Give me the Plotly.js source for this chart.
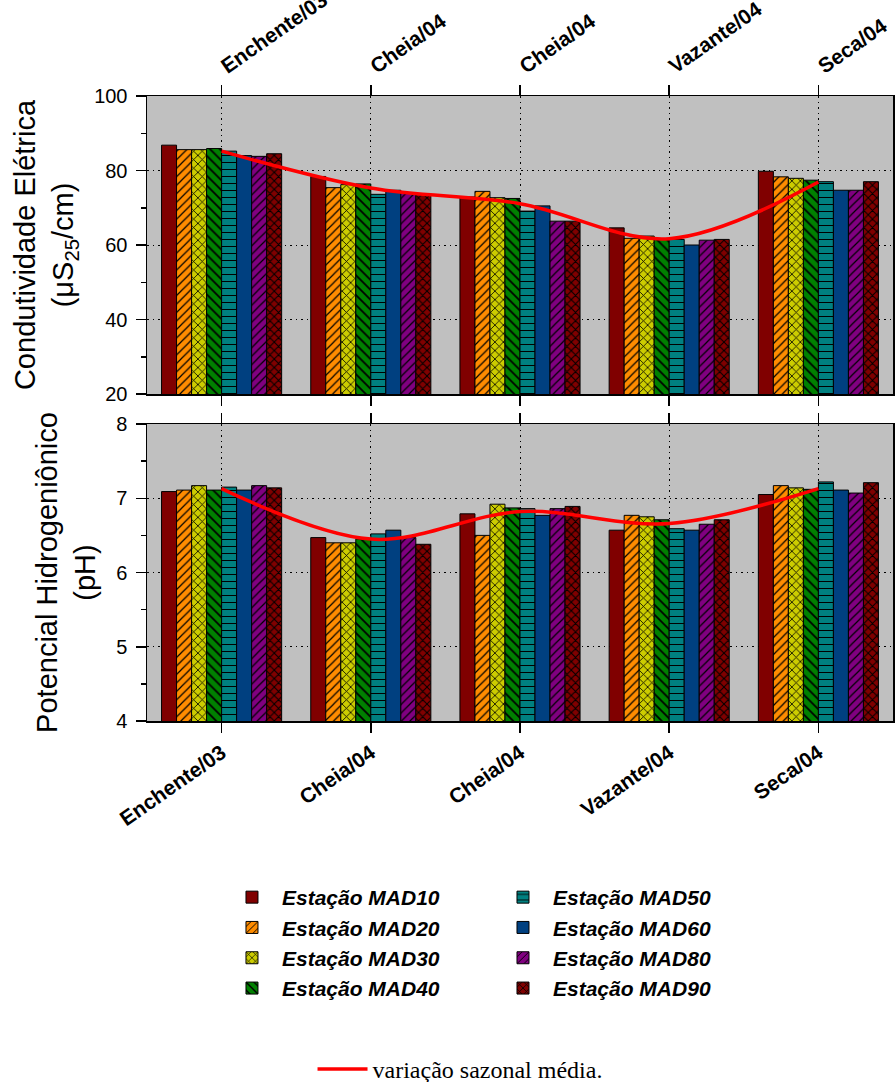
<!DOCTYPE html>
<html>
<head>
<meta charset="utf-8">
<script src="https://cdn.plot.ly/plotly-3.0.1.min.js"></script>
<style>html,body{margin:0;padding:0;background:#fff;}#chart{width:895px;height:1082px;}</style>
</head>
<body>
<div id="chart"></div>
<script>
const categories = ['Enchente/03', 'Cheia/04', 'Cheia/04', 'Vazante/04', 'Seca/04'];
const stations = ['Estação MAD10', 'Estação MAD20', 'Estação MAD30', 'Estação MAD40',
                  'Estação MAD50', 'Estação MAD60', 'Estação MAD80', 'Estação MAD90'];

// Condutividade elétrica (µS25/cm)
const condMAD10 = [86.8, 78.4, 72.9, 64.6, 79.8];
const condMAD20 = [85.6, 75.4, 74.4, 61.8, 78.3];
const condMAD30 = [85.6, 76.2, 72.7, 62.4, 77.9];
const condMAD40 = [85.9, 76.4, 72.5, 61.7, 77.4];
const condMAD50 = [85.2, 73.6, 69.1, 61.5, 77.0];
const condMAD60 = [84.0, 74.7, 70.5, 60.0, 74.7];
const condMAD80 = [83.8, 74.0, 66.4, 61.3, 74.7];
const condMAD90 = [84.5, 73.8, 66.4, 61.5, 77.0];
const condMedia = [85.2, 75.3, 71.1, 61.7, 76.9];

// Potencial hidrogeniônico (pH)
const phMAD10 = [7.09, 6.47, 6.79, 6.57, 7.05];
const phMAD20 = [7.11, 6.40, 6.50, 6.77, 7.17];
const phMAD30 = [7.17, 6.40, 6.92, 6.75, 7.14];
const phMAD40 = [7.11, 6.45, 6.87, 6.71, 7.12];
const phMAD50 = [7.15, 6.52, 6.86, 6.59, 7.22];
const phMAD60 = [7.11, 6.57, 6.77, 6.57, 7.11];
const phMAD80 = [7.17, 6.47, 6.86, 6.65, 7.07];
const phMAD90 = [7.14, 6.38, 6.89, 6.71, 7.21];
const phMedia = [7.13, 6.45, 6.82, 6.66, 7.13];

const condSeries = [condMAD10, condMAD20, condMAD30, condMAD40, condMAD50, condMAD60, condMAD80, condMAD90];
const phSeries = [phMAD10, phMAD20, phMAD30, phMAD40, phMAD50, phMAD60, phMAD80, phMAD90];

const colors = ['#800000', '#FF8C00', '#CCCC00', '#008000', '#008080', '#004080', '#800080', '#800000'];
const patterns = ['', '/', 'x', '\\', '-', '', '/', 'x'];
const patSize = [6, 6, 6, 7, 7, 6, 6, 6];
const patSolid = [0.2, 0.2, 0.25, 0.25, 0.15, 0.2, 0.2, 0.3];

const xIdx = categories.map((c, i) => i);
const SANS = 'Liberation Sans, Arial, sans-serif';
const GRIDDASH = '1.5px,4px';

const traces = [];
function addBars(series, xa, ya, showLeg) {
  series.forEach((vals, k) => {
    traces.push({
      type: 'bar', x: xIdx, y: vals, xaxis: xa, yaxis: ya,
      name: stations[k], legendgroup: stations[k], showlegend: showLeg,
      legend: k < 4 ? 'legend' : 'legend2',
      marker: {
        color: colors[k],
        line: {color: '#000', width: 1},
        pattern: {shape: patterns[k], fgcolor: '#000', bgcolor: colors[k], fillmode: 'replace',
                  size: patSize[k], solidity: patSolid[k]}
      },
      hoverinfo: 'y'
    });
  });
}
addBars(condSeries, 'x2', 'y2', true);
addBars(phSeries, 'x', 'y', false);

traces.push({type: 'scatter', mode: 'lines', x: xIdx, y: condMedia, xaxis: 'x2', yaxis: 'y2',
  line: {color: '#FF0000', width: 3.5, shape: 'spline'}, name: 'variação sazonal média.',
  legend: 'legend3', legendgroup: 'media', showlegend: true});
traces.push({type: 'scatter', mode: 'lines', x: xIdx, y: phMedia, xaxis: 'x', yaxis: 'y',
  line: {color: '#FF0000', width: 3.5, shape: 'spline'}, name: 'variação sazonal média.',
  legend: 'legend3', legendgroup: 'media', showlegend: false});

const xCommon = {
  range: [-0.5, 4.5], tickvals: xIdx, ticktext: categories, tickangle: -35,
  ticks: 'outside', ticklen: 10, tickwidth: 1.5, tickcolor: '#000',
  showline: true, linecolor: '#000', linewidth: 1.5, mirror: 'ticks',
  showgrid: true, gridcolor: '#000', griddash: GRIDDASH, gridwidth: 1, zeroline: false,
  tickfont: {family: SANS, size: 21, color: '#000', weight: 'bold'}
};
const yCommon = {
  ticks: 'outside', ticklen: 10, tickwidth: 1.5, tickcolor: '#000',
  showline: true, linecolor: '#000', linewidth: 1.5, mirror: true,
  showgrid: true, gridcolor: '#000', griddash: GRIDDASH, gridwidth: 1, zeroline: false,
  ticksuffix: '\u2009',
  tickfont: {family: SANS, size: 20, color: '#000'}
};
const legFont = {family: SANS, size: 21, color: '#000', weight: 'bold', style: 'italic'};

const layout = {
  width: 895, height: 1082,
  margin: {l: 147, r: 2, t: 96, b: 361, autoexpand: false},
  paper_bgcolor: '#fff', plot_bgcolor: '#C0C0C0',
  barmode: 'group', bargap: 0.195, bargroupgap: 0,
  showlegend: true,
  xaxis: Object.assign({}, xCommon, {anchor: 'y', domain: [0, 1], side: 'bottom'}),
  xaxis2: Object.assign({}, xCommon, {anchor: 'y2', domain: [0, 1], side: 'top'}),
  yaxis: Object.assign({}, yCommon, {anchor: 'x', domain: [0, 0.4752], range: [4, 8], dtick: 1, tick0: 4,
    minor: {dtick: 0.5, ticks: 'outside', ticklen: 5, tickwidth: 1.5, tickcolor: '#000', showgrid: false},
    title: {text: 'Potencial Hidrogeniônico<br>(pH)', standoff: 12, font: {family: SANS, size: 29, color: '#000'}}}),
  yaxis2: Object.assign({}, yCommon, {anchor: 'x2', domain: [0.5232, 1], range: [20, 100], dtick: 20, tick0: 20,
    minor: {dtick: 10, ticks: 'outside', ticklen: 5, tickwidth: 1.5, tickcolor: '#000', showgrid: false},
    title: {text: 'Condutividade Elétrica<br>(μS<sub>25</sub>/cm)', standoff: 12, font: {family: SANS, size: 29, color: '#000'}}}),
  legend: {x: 0.1005, y: -0.2496, xanchor: 'left', yanchor: 'top',
    orientation: 'v', font: legFont, bgcolor: 'rgba(0,0,0,0)', itemwidth: 50, tracegroupgap: 0},
  legend2: {x: 0.4638, y: -0.2496, xanchor: 'left', yanchor: 'top',
    orientation: 'v', font: legFont, bgcolor: 'rgba(0,0,0,0)', itemwidth: 50, tracegroupgap: 0},
  legend3: {x: 0.4196, y: -0.5216, xanchor: 'center', yanchor: 'top',
    orientation: 'h', font: {family: 'Liberation Serif, Times New Roman, serif', size: 24, color: '#000'},
    bgcolor: 'rgba(0,0,0,0)', itemwidth: 50}
};

Plotly.newPlot('chart', traces, layout, {displayModeBar: false, staticPlot: true});
</script>
</body>
</html>
